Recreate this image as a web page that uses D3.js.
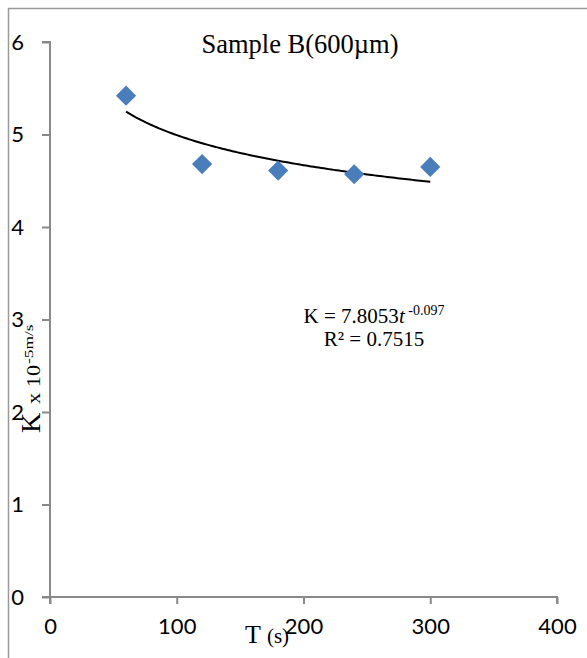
<!DOCTYPE html>
<html>
<head>
<meta charset="utf-8">
<script src="https://cdn.jsdelivr.net/npm/d3@7"></script>
<style>
  html, body { margin: 0; padding: 0; background: #fff; }
  svg { display: block; }
</style>
</head>
<body>
<svg id="chart" width="587" height="658"></svg>
<script>
// ---- data ----
const tValues = [60, 120, 180, 240, 300];
const kValues = [5.42, 4.68, 4.61, 4.57, 4.65];
const xTicks = [0, 100, 200, 300, 400];
const yTicks = [0, 1, 2, 3, 4, 5, 6];
const trendA = 7.8053;
const trendB = -0.097;
const trendRange = [60, 300];
const titleText = "Sample B(600µm)";
const r2Text = "R² = 0.7515";

// ---- layout ----
const svg = d3.select("#chart");
const x = d3.scaleLinear().domain([0, 400]).range([50, 557]);
const y = d3.scaleLinear().domain([0, 6]).range([597, 42]);
const axisColor = "#898989";
const tickFont = "Lato, 'Open Sans', sans-serif";
const serif = "'Liberation Serif', 'Times New Roman', serif";

// outer chart border (cropped on right/bottom)
svg.append("rect")
  .attr("x", 8.5).attr("y", 8.5)
  .attr("width", 600).attr("height", 700)
  .attr("fill", "none").attr("stroke", "#9a9a9a").attr("stroke-width", 1.5);

// y axis
const yAxis = d3.axisLeft(y).tickValues(yTicks).tickSize(8).tickPadding(18).tickFormat(d3.format("d"));
const gy = svg.append("g").attr("transform", `translate(${x(0)},0)`).call(yAxis);
gy.select(".domain").attr("stroke", axisColor).attr("stroke-width", 2)
  .attr("d", `M-8,${y(6)}H0V${y(0) + 7}`);
gy.selectAll(".tick line").attr("stroke", axisColor).attr("stroke-width", 2);
gy.selectAll(".tick text").attr("font-family", tickFont).attr("font-size", 22).attr("fill", "#000");

// x axis
const xAxis = d3.axisBottom(x).tickValues(xTicks).tickSize(7).tickPadding(14).tickFormat(d3.format("d"));
const gx = svg.append("g").attr("transform", `translate(0,${y(0)})`).call(xAxis);
gx.select(".domain").attr("stroke", axisColor).attr("stroke-width", 2)
  .attr("d", `M${x(0) - 8},0H${x(400)}V7`);
gx.selectAll(".tick line").attr("stroke", axisColor).attr("stroke-width", 2);
gx.selectAll(".tick text").attr("font-family", tickFont).attr("font-size", 22).attr("fill", "#000");

// trend line (power fit)
const trendPts = d3.range(trendRange[0], trendRange[1] + 0.001, 2).map(t => [t, trendA * Math.pow(t, trendB)]);
svg.append("path")
  .datum(trendPts)
  .attr("fill", "none").attr("stroke", "#000").attr("stroke-width", 2)
  .attr("d", d3.line().x(d => x(d[0])).y(d => y(d[1])));

// markers
const diamond = d3.symbol().type(d3.symbolDiamond2).size(260);
svg.append("g").selectAll("path")
  .data(tValues.map((t, i) => [t, kValues[i]]))
  .join("path")
  .attr("d", diamond)
  .attr("transform", d => `translate(${x(d[0])},${y(d[1])})`)
  .attr("fill", "#4a7ebb");

// title
svg.append("text")
  .attr("x", 300).attr("y", 53)
  .attr("text-anchor", "middle")
  .attr("font-family", serif).attr("font-size", 26.5)
  .text(titleText);

// equation
const eq = svg.append("text")
  .attr("x", 374).attr("y", 323)
  .attr("text-anchor", "middle")
  .attr("font-family", serif).attr("font-size", 21);
eq.append("tspan").text("K = 7.8053");
eq.append("tspan").attr("font-style", "italic").text("t");
eq.append("tspan").attr("font-size", 14).attr("dy", -8).text(" -0.097");
svg.append("text")
  .attr("x", 374).attr("y", 346)
  .attr("text-anchor", "middle")
  .attr("font-family", serif).attr("font-size", 21)
  .text(r2Text);

// x axis title
const xt = svg.append("text")
  .attr("x", 245).attr("y", 643)
  .attr("font-family", serif).attr("font-size", 26);
xt.append("tspan").text("T ");
xt.append("tspan").attr("font-size", 21).text("(s)");

// y axis title (rotated, stretched along its length like the original)
const yTitle = svg.append("g").attr("font-family", serif).attr("fill", "#000");
yTitle.append("text")
  .attr("transform", "translate(40,433) rotate(-90)")
  .attr("font-size", 28).text("K");
yTitle.append("text")
  .attr("transform", "translate(40,404) rotate(-90) scale(1.24,1)")
  .attr("font-size", 18).text("x 10");
yTitle.append("text")
  .attr("transform", "translate(33,364) rotate(-90) scale(1.45,1)")
  .attr("font-size", 12).text("-5m/s");
</script>
</body>
</html>
